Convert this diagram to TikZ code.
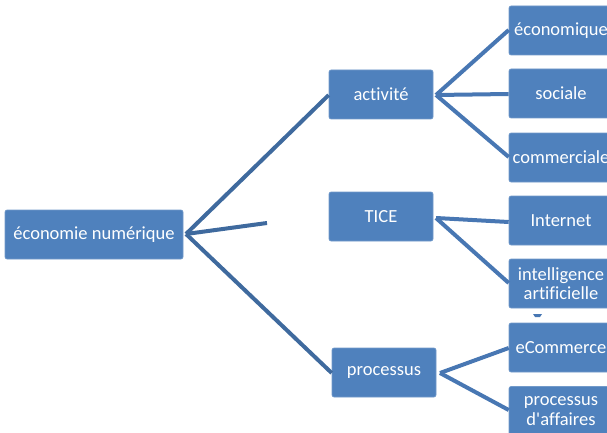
\documentclass[tikz,border=0pt]{standalone}
\usepackage{fontspec}
\setmainfont[Ligatures={NoCommon}]{Carlito}
\definecolor{boxblue}{HTML}{4F81BD}
\definecolor{edgeblue}{HTML}{4877B3}
\definecolor{rootline}{HTML}{3F6A9E}
\begin{document}
\begin{tikzpicture}[x=1pt,y=-1pt,
  box/.style={fill=boxblue,draw=boxblue!80!white,line width=0.6pt,rounded corners=2pt,text=white,font=\fontsize{18.5}{19.5}\selectfont,align=center,inner sep=0pt,minimum width=104pt,minimum height=49pt},
  conn/.style={draw=edgeblue,line width=4pt},
  rconn/.style={draw=rootline,line width=4pt}]
\path[use as bounding box] (0,0) rectangle (607,433);
\begin{scope}
\clip (0,0) rectangle (607,433);
% root
\node[box,minimum width=178pt] (root) at (94,234.5) {économie numérique};
% level 1
\node[box] (act) at (381,94.5) {activité};
\node[box] (tice) at (381,216.5) {TICE};
\node[box] (proc) at (384,372.5) {processus};
% level 2
\node[box] (eco) at (561,30.5) {économique};
\node[box] (soc) at (561,93.5) {sociale};
\node[box] (com) at (561,157.5) {commerciale};
\node[box] (int) at (561,220.5) {Internet};
\node[box] (ia) at (561,283.5) {intelligence\\artificielle};
\node[box] (ecom) at (561,347.5) {eCommerce};
\node[box] (pa) at (561,411) {processus\\d\textquotesingle affaires};
% connector endpoints
\coordinate (r0) at (186,234);
\coordinate (rm) at (267,223);
\coordinate (a0) at (436,95);
\coordinate (t0) at (436,218);
\coordinate (p0) at (440,373);
% root connectors
\draw[rconn] (r0) -- (act.west |- 0,95);
\draw[rconn] (r0) -- (rm);
\draw[rconn] (r0) -- (proc.west |- 0,373);
% activité
\draw[conn] (a0) -- (eco.west |- 0,30);
\draw[conn] (a0) -- (soc.west |- 0,94);
\draw[conn] (a0) -- (com.west |- 0,157);
% TICE
\draw[conn] (t0) -- (int.west |- 0,222);
\draw[conn] (t0) -- (ia.west |- 0,283);
% processus
\draw[conn] (p0) -- (ecom.west |- 0,348);
\draw[conn] (p0) -- (pa.west |- 0,410);
% small artifact
\fill[edgeblue] (533,314) -- (542,314) -- (540,317) -- (535,317) -- cycle;
\end{scope}
\end{tikzpicture}
\end{document}
